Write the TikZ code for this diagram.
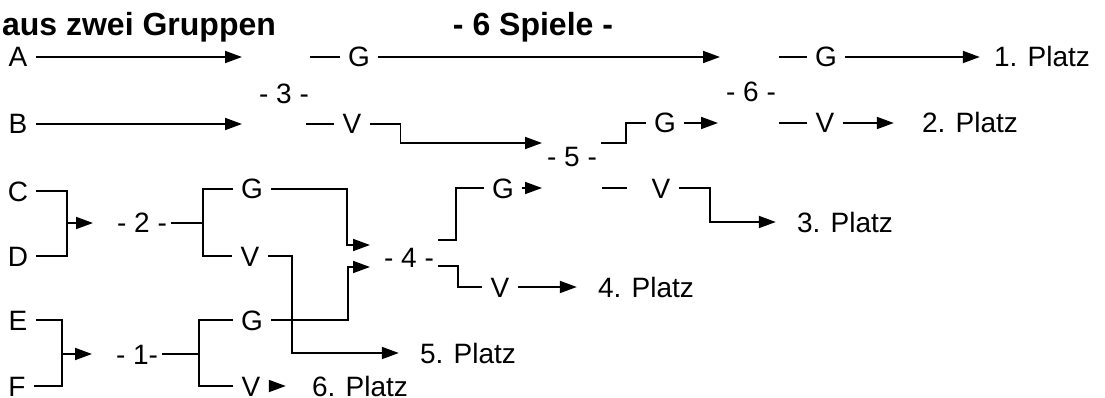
\documentclass[tikz,border=0pt]{standalone}
\usepackage{fontspec}
\setmainfont{Liberation Sans}
\usetikzlibrary{arrows.meta}
\begin{document}
\begin{tikzpicture}[x=1pt,y=-1pt,
	every node/.style={inner xsep=8pt,inner ysep=0pt,text height=20pt,text depth=0pt,font=\fontsize{28}{30}\selectfont},
	spiel/.style={inner xsep=4pt},
	platz/.style={inner xsep=21pt},
	titel/.style={inner sep=0pt,text height=23pt,font=\fontsize{32}{36}\selectfont\bfseries},
	linie/.style={line width=1.8pt},
	pfeil/.style={line width=1.8pt,-{Triangle[length=17pt,width=12pt]}}]
	\useasboundingbox (0,0) rectangle (1105,398);

	\node[titel] (t1) at (139,24) {aus zwei Gruppen};
	\node[titel] (t2) at (533,24) {- 6 Spiele -};

	% Gruppe oben
	\node (nA) at (18,57)  {A};
	\node (nB) at (18,124)  {B};
	\node[spiel] (s3) at (284,94)  {- 3 -};
	\node (g3) at (359,57)  {G};
	\node (v3) at (352,124)  {V};
	\node[spiel] (s6) at (751,92)  {- 6 -};
	\node (g6) at (826,57)  {G};
	\node (v6) at (825,123)  {V};
	\node[platz,inner xsep=14pt] (p1) at (1042,57)  {1. Platz};
	\node[platz,inner xsep=28pt] (p2) at (970,123)  {2. Platz};
	\node[spiel] (s5) at (572,157)  {- 5 -};
	\node (g5) at (665,123)  {G};
	\node (v5) at (661,188)  {V};
	\node[platz] (p3) at (845,222)  {3. Platz};

	% Gruppe unten
	\node (nC) at (18,191)  {C};
	\node (nD) at (18,256)  {D};
	\node (nE) at (18,320)  {E};
	\node (nF) at (17,386)  {F};
	\node[spiel] (s2) at (142,223)  {- 2 -};
	\node[spiel] (s1) at (137,354)  {- 1-};
	\node (g2) at (252,189)  {G};
	\node (v2) at (250,256)  {V};
	\node (g1) at (252,320)  {G};
	\node (v1) at (251,386)  {V};
	\node[spiel] (s4) at (409,257)  {- 4 -};
	\node (g4) at (503,188)  {G};
	\node (v4) at (500,287)  {V};
	\node[platz] (p4) at (646,287)  {4. Platz};
	\node[platz] (p5) at (468,353)  {5. Platz};
	\node[platz,inner xsep=26pt] (p6) at (360,386)  {6. Platz};

	\coordinate (e3a) at (242,57);
	\coordinate (e3b) at (242,124);
	\coordinate (e6a) at (720,57);
	\coordinate (e6b) at (718,123);
	\coordinate (e5a) at (542,143);
	\coordinate (e5b) at (542,188);
	\coordinate (e4a) at (370,245);
	\coordinate (e4b) at (370,267);
	\coordinate (e2) at (93,223);
	\coordinate (e1) at (92,354);
	\coordinate (k2) at (67,223);
	\coordinate (k1) at (62,354);
	\coordinate (m2) at (203,223);
	\coordinate (m1) at (199,354);

	\draw[pfeil] (nA) -- (e3a);
	\draw[pfeil] (nB) -- (e3b);
	\draw[linie] (g3.west) -- ++(-30,0);
	\draw[linie] (v3.west) -- ++(-28,0);
	\draw[pfeil] (g3) -- (e6a);
	\draw[pfeil] (v3.east) -- ++(31,0) |- (e5a);
	\draw[linie] ([yshift=14pt]s5.east) -- ++(25,0) |- (g5);
	\draw[linie] ([xshift=-16pt]v5.west) -- ++(-25,0);
	\draw[pfeil] (g5) -- (e6b);
	\draw[pfeil] (v5) -| (710,222) -- (p3);
	\draw[linie] (g6.west) -- ++(-28,0);
	\draw[linie] (v6.west) -- ++(-28,0);
	\draw[pfeil] (g6) -- (p1);
	\draw[pfeil] (v6) -- (p2);

	\draw[linie] (nC) -| (k2) |- (nD);
	\draw[pfeil] (k2) -- (e2);
	\draw[linie] (s2) -- (m2);
	\draw[linie] (g2) -| (m2) |- (v2);
	\draw[linie] (nE) -| (k1) |- (nF);
	\draw[pfeil] (k1) -- (e1);
	\draw[linie] (s1) -- (m1);
	\draw[linie] (g1) -| (m1) |- (v1);
	\draw[pfeil] (g2) -| (347,245) -- (e4a);
	\draw[pfeil] (g1) -| (348,267) -- (e4b);
	\draw[pfeil] (v2) -| (292,353) -- (p5);
	\draw[linie] ([yshift=17pt]s4.east) -- ++(18,0) |- (g4);
	\draw[linie] ([yshift=-9pt]s4.east) -- ++(20,0) |- (v4);
	\draw[pfeil] (g4) -- (e5b);
	\draw[pfeil] (v4) -- (p4);
	\draw[pfeil] (v1) -- (p6);
\end{tikzpicture}
\end{document}
